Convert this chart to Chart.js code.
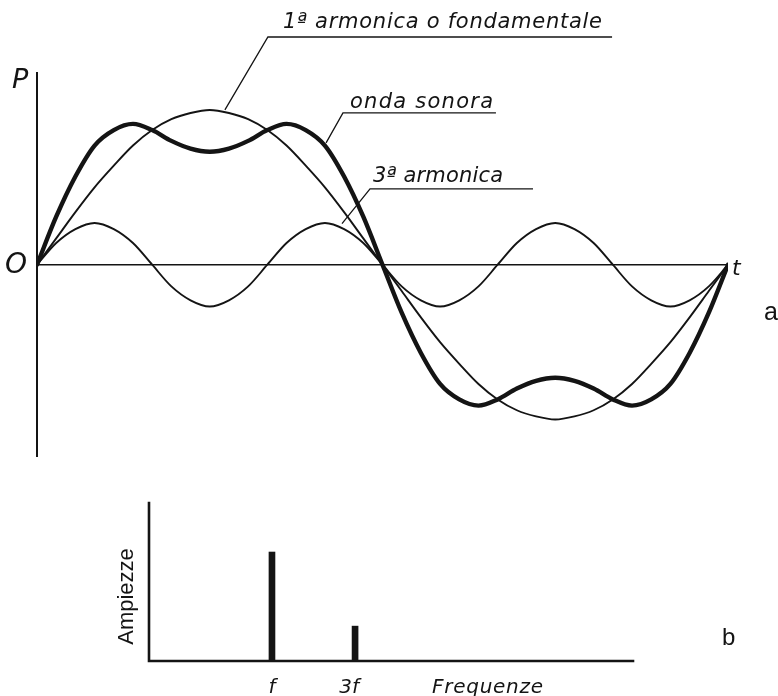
<!DOCTYPE html>
<html>
<head>
<meta charset="utf-8">
<script src="https://cdn.jsdelivr.net/npm/chart.js@4.4.0/dist/chart.umd.min.js"></script>
<style>
  html, body { margin: 0; padding: 0; background: #ffffff; }
  #wrap { position: relative; width: 778px; height: 696px; overflow: hidden; }
  #onda { position: absolute; left: 0; top: 0; width: 778px; height: 480px; }
  #spettro { position: absolute; left: 0; top: 480px; width: 778px; height: 216px; }
</style>
</head>
<body>
<div id="wrap">
  <canvas id="onda" width="778" height="480"></canvas>
  <canvas id="spettro" width="778" height="216"></canvas>
</div>
<script>
// --- a: pressure vs. time over one period (phase in degrees) ---
const fase = [0, 10, 20, 30, 40, 50, 60, 70, 80, 90, 100, 110, 120, 130, 140, 150, 160, 170, 180,
              190, 200, 210, 220, 230, 240, 250, 260, 270, 280, 290, 300, 310, 320, 330, 340, 350, 360];

const fondamentale = [0, 0.17, 0.34, 0.50, 0.64, 0.77, 0.87, 0.94, 0.98, 1.00, 0.98, 0.94, 0.87, 0.77, 0.64, 0.50, 0.34, 0.17, 0,
                      -0.17, -0.34, -0.50, -0.64, -0.77, -0.87, -0.94, -0.98, -1.00, -0.98, -0.94, -0.87, -0.77, -0.64, -0.50, -0.34, -0.17, 0];

const terzaArmonica = [0, 0.14, 0.23, 0.27, 0.23, 0.14, 0, -0.14, -0.23, -0.27, -0.23, -0.14, 0, 0.14, 0.23, 0.27, 0.23, 0.14, 0,
                       -0.14, -0.23, -0.27, -0.23, -0.14, 0, 0.14, 0.23, 0.27, 0.23, 0.14, 0, -0.14, -0.23, -0.27, -0.23, -0.14, 0];

const ondaSonora = [0, 0.31, 0.57, 0.77, 0.87, 0.91, 0.87, 0.80, 0.75, 0.73, 0.75, 0.80, 0.87, 0.91, 0.87, 0.77, 0.57, 0.31, 0,
                    -0.31, -0.57, -0.77, -0.87, -0.91, -0.87, -0.80, -0.75, -0.73, -0.75, -0.80, -0.87, -0.91, -0.87, -0.77, -0.57, -0.31, 0];

// --- b: amplitude spectrum (frequency in multiples of f) ---
const frequenze = [1, 3];
const ampiezze = [1.0, 0.32];
const etichetteFrequenze = ['f', '3f'];

const INK = '#141414';
const CORSIVO = 'oblique 400 {s}px "DejaVu Sans", "Open Sans", sans-serif';
const DRITTO = '400 {s}px "Liberation Sans", Arial, sans-serif';
const font = (tpl, s) => tpl.replace('{s}', s);

// draw text stretched to a given width by spreading the extra space between glyphs
function testoSpaziato(ctx, testo, x, y, larghezza) {
  const chars = Array.from(testo);
  const widths = chars.map(c => ctx.measureText(c).width);
  const tot = widths.reduce((a, b) => a + b, 0);
  const extra = chars.length > 1 ? (larghezza - tot) / (chars.length - 1) : 0;
  let cx = x;
  ctx.textAlign = 'left';
  chars.forEach((c, i) => {
    ctx.fillText(c, cx, y);
    cx += widths[i] + extra;
  });
}

const punti = (ys) => fase.map((t, i) => ({ x: t, y: ys[i] }));

// callouts: start on a curve, bend, then run horizontally under the label
const richiami = [
  { testo: '1ª armonica o fondamentale', da: [97.9, 1.00], gomito: [120.3, 1.471], fine: 299.6, tx: 283, tw: 319, dy: -9 },
  { testo: 'onda sonora',                da: [150.6, 0.787], gomito: [159.4, 0.981], fine: 239.1, tx: 350, tw: 143, dy: -5 },
  { testo: '3ª armonica',                da: [158.9, 0.265], gomito: [173.5, 0.49],  fine: 258.4, tx: 373, tw: 130, dy: -7 }
];

const assiOnda = {
  id: 'assiOnda',
  beforeDatasetsDraw(chart) {
    const { ctx, chartArea: a, scales: { x, y } } = chart;
    ctx.save();
    ctx.strokeStyle = INK;
    ctx.lineCap = 'butt';
    // vertical P axis
    ctx.lineWidth = 2;
    ctx.beginPath();
    ctx.moveTo(x.getPixelForValue(0), a.top);
    ctx.lineTo(x.getPixelForValue(0), a.bottom);
    ctx.stroke();
    // horizontal time axis
    ctx.lineWidth = 1.6;
    ctx.beginPath();
    ctx.moveTo(x.getPixelForValue(0), y.getPixelForValue(0));
    ctx.lineTo(x.getPixelForValue(360), y.getPixelForValue(0));
    ctx.stroke();
    ctx.restore();
  },
  afterDatasetsDraw(chart) {
    const { ctx, scales: { x, y } } = chart;
    ctx.save();
    ctx.strokeStyle = INK;
    ctx.fillStyle = INK;
    ctx.lineWidth = 1.3;
    ctx.lineJoin = 'miter';
    richiami.forEach(r => {
      const x0 = x.getPixelForValue(r.da[0]), y0 = y.getPixelForValue(r.da[1]);
      const x1 = x.getPixelForValue(r.gomito[0]), y1 = y.getPixelForValue(r.gomito[1]);
      const x2 = x.getPixelForValue(r.fine);
      ctx.beginPath();
      ctx.moveTo(x0, y0);
      ctx.lineTo(x1, y1);
      ctx.lineTo(x2, y1);
      ctx.stroke();
      ctx.font = font(CORSIVO, 21);
      ctx.textBaseline = 'alphabetic';
      testoSpaziato(ctx, r.testo, r.tx, y1 + r.dy, r.tw);
    });
    // axis letters
    ctx.textBaseline = 'alphabetic';
    ctx.textAlign = 'left';
    ctx.font = font(CORSIVO, 27);
    ctx.fillText('P', 12, 88);
    ctx.font = font(CORSIVO, 28);
    ctx.fillText('O', 5, 273);
    ctx.font = font(CORSIVO, 22);
    ctx.fillText('t', 732, 275);
    ctx.font = font(DRITTO, 25);
    ctx.fillText('a', 764, 320);
    ctx.restore();
  }
};

new Chart(document.getElementById('onda'), {
  type: 'line',
  data: {
    datasets: [
      { label: 'onda sonora', data: punti(ondaSonora), borderWidth: 4.4 },
      { label: '1ª armonica o fondamentale', data: punti(fondamentale), borderWidth: 1.9 },
      { label: '3ª armonica', data: punti(terzaArmonica), borderWidth: 1.9 }
    ]
  },
  options: {
    responsive: false,
    animation: false,
    devicePixelRatio: 1,
    layout: { padding: { left: 37, right: 50, top: 72, bottom: 23 } },
    scales: {
      x: { type: 'linear', min: 0, max: 360, display: false },
      y: { type: 'linear', min: -1.242, max: 1.245, display: false }
    },
    elements: {
      point: { radius: 0 },
      line: { borderColor: INK, fill: false, cubicInterpolationMode: 'monotone', borderCapStyle: 'round', borderJoinStyle: 'round' }
    },
    plugins: { legend: { display: false }, tooltip: { enabled: false } }
  },
  plugins: [assiOnda]
});

const assiSpettro = {
  id: 'assiSpettro',
  afterDatasetsDraw(chart) {
    const { ctx, chartArea: a, scales: { x, y } } = chart;
    ctx.save();
    ctx.strokeStyle = INK;
    ctx.fillStyle = INK;
    ctx.lineWidth = 2.6;
    ctx.lineCap = 'square';
    ctx.beginPath();
    ctx.moveTo(a.left, a.top);
    ctx.lineTo(a.left, y.getPixelForValue(0));
    ctx.lineTo(a.right, y.getPixelForValue(0));
    ctx.stroke();
    // frequency labels
    ctx.font = font(CORSIVO, 20);
    ctx.textBaseline = 'alphabetic';
    ctx.textAlign = 'center';
    frequenze.forEach((f, i) => {
      ctx.fillText(etichetteFrequenze[i], x.getPixelForValue(f) - (i === 0 ? 0 : 6), 213);
    });
    ctx.textAlign = 'left';
    testoSpaziato(ctx, 'Frequenze', 432, 213, 111);
    // vertical axis title
    ctx.save();
    ctx.translate(133, 116.5);
    ctx.rotate(-Math.PI / 2);
    ctx.font = font(DRITTO, 22);
    ctx.textAlign = 'center';
    ctx.fillText('Ampiezze', 0, 0);
    ctx.restore();
    ctx.font = font(DRITTO, 24);
    ctx.fillText('b', 722, 165);
    ctx.restore();
  }
};

new Chart(document.getElementById('spettro'), {
  type: 'bar',
  data: {
    datasets: [{
      label: 'Ampiezze',
      data: frequenze.map((f, i) => ({ x: f, y: ampiezze[i] })),
      backgroundColor: INK,
      borderWidth: 0,
      barThickness: 6
    }]
  },
  options: {
    responsive: false,
    animation: false,
    devicePixelRatio: 1,
    layout: { padding: { left: 149, right: 145, top: 23, bottom: 35 } },
    scales: {
      x: { type: 'linear', min: -1.96, max: 9.69, offset: false, display: false },
      y: { type: 'linear', min: 0, max: 1.45, display: false }
    },
    plugins: { legend: { display: false }, tooltip: { enabled: false } }
  },
  plugins: [assiSpettro]
});
</script>
</body>
</html>
